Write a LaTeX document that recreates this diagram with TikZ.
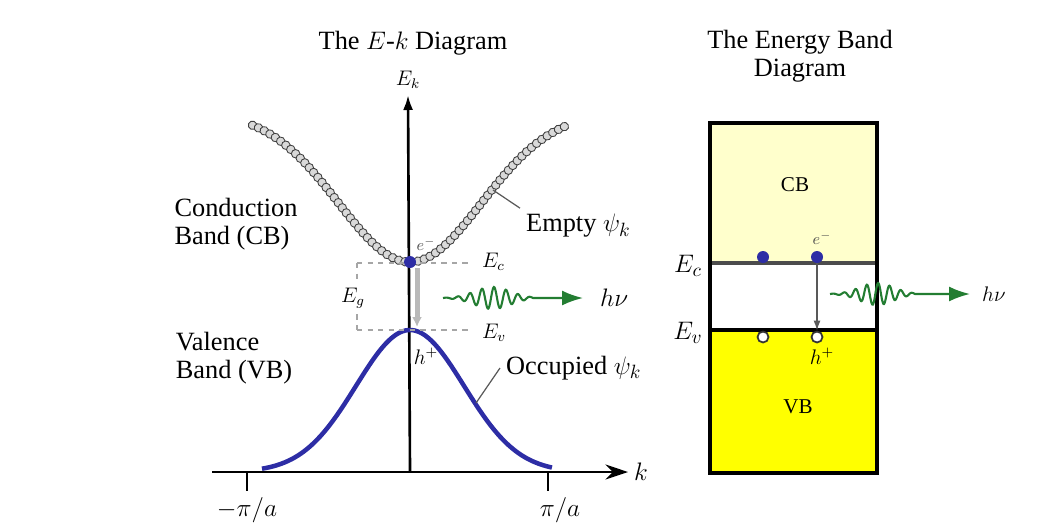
\documentclass[tikz,border=0pt]{standalone}
\usepackage{amsmath,amssymb}
\usepackage{fontspec}
\setmainfont{Liberation Serif}
\usetikzlibrary{arrows.meta,decorations.markings}

\definecolor{bandblue}{RGB}{45,45,165}
\definecolor{photongreen}{RGB}{35,125,50}
\definecolor{cbfill}{RGB}{255,255,204}
\definecolor{vbfill}{RGB}{255,255,0}

\tikzset{
  txt/.style={font=\fontsize{15}{16}\selectfont},
  sml/.style={font=\fontsize{12}{14}\selectfont},
  tiny/.style={font=\fontsize{9}{10}\selectfont, text=black!70},
  edot/.style={circle, fill=bandblue, inner sep=0pt, minimum size=0.24cm},
  hole/.style={circle, draw=black!80, fill=white, line width=1pt, inner sep=0pt, minimum size=0.22cm},
  photon/.style={photongreen, line width=1.2pt, -{Latex[length=0.42cm,width=0.3cm]}},
  lvl/.style={gray!70, dashed, line width=0.7pt},
  leader/.style={black!65, line width=0.7pt},
  cbchain/.style={postaction={decorate, decoration={markings,
      mark=between positions 0 and 1 step 0.13cm with {\draw[black!75, fill=gray!30, line width=0.5pt] (0,0) circle (0.085cm);}}}},
}

\begin{document}
\begin{tikzpicture}[x=0.02cm, y=-0.02cm, >={Latex[length=0.3cm,width=0.2cm]}]
	\useasboundingbox (0,0) rectangle (1057,525);
	% E-k diagram
	\node[txt] (tEk) at (413,43) {The $E$-$k$ Diagram};
	\coordinate (O) at (410,472);
	\coordinate (ktail) at (212,472);
	\node[sml] (Ek) at (408,80) {$E_k$};
	\node[txt, anchor=west] (k) at (628,472) {$k$};
	\draw[line width=1.5pt, -{Stealth[length=0.45cm,width=0.3cm]}] (ktail) -- (k.west);
	\draw[line width=1.5pt, ->] (O) -- (Ek.south);
	\node[txt] (mpa) at (247,510) {$-\pi/a$};
	\node[txt] (ppa) at (560,510) {$\pi/a$};
	\draw[line width=0.8pt] (mpa.north |- O) -- (mpa.north);
	\draw[line width=0.8pt] (548,472) -- (548,491);
	\draw[bandblue, line width=0.09cm] plot[domain=-2.96:2.84, samples=90] ({410+50*\x},{472-142*exp(-0.4287*\x*\x)});
	\path[cbchain] plot[domain=-3.15:3.2, samples=120] ({410+50*\x},{112+150*exp(-0.2445*\x*\x)});
	\node[txt, align=left] (cbtxt) at (236,224) {Conduction\\Band (CB)};
	\node[txt, align=left] (vbtxt) at (234,358) {Valence\\Band (VB)};
	\coordinate (cbpt) at (493,190);
	\node[txt, anchor=west] (empty) at (520,226) {Empty $\psi_k$};
	\draw[leader] (cbpt) -- (empty.north west);
	\coordinate (vbpt) at (476,403);
	\node[txt, anchor=west] (occ) at (500,368) {Occupied $\psi_k$};
	\draw[leader] (vbpt) -- (occ.west);
	\coordinate (ecL) at (357,263);
	\coordinate (ecR) at (470,263);
	\coordinate (evL) at (357,330);
	\coordinate (evR) at (470,330);
	\draw[lvl] (ecL) -- (ecR);
	\draw[lvl] (evL) -- (evR);
	\node[sml] (eg) at (353,298) {$E_g$};
	\draw[lvl] (ecL) -- (eg.north -| ecL);
	\draw[lvl] (eg.south -| evL) -- (evL);
	\node[sml, anchor=west] (ec1) at (476,262) {$E_c$};
	\node[sml, anchor=west] (ev1) at (476,333) {$E_v$};
	\coordinate (h1) at (417,327);
	\draw[gray!55, line width=0.1cm, -{Latex[length=0.2cm,width=0.2cm]}] (h1 |- 268,268) -- (h1);
	\node[edot] (e1) at (410,262) {};
	\node[tiny] (em1) at (426,244) {$e^-$};
	\node[sml] (hp1) at (426,356) {$h^+$};
	\coordinate (ph1end) at (583,298);
	\draw[photon] plot[domain=0:1, samples=160] ({443+90*\x},{298-11*exp(-((\x-0.55)/0.28)^2)*sin(\x*7.5*360)}) -- (ph1end);
	\node[txt, anchor=west] (hv1) at (594,298) {$h\nu$};
	% energy band diagram
	\node[txt, align=center] (tEB) at (800,56) {The Energy Band\\Diagram};
	\fill[cbfill] (710,123) rectangle (877,263);
	\fill[vbfill] (710,330) rectangle (877,473);
	\draw[gray!60!black, line width=0.07cm] (710,263) -- (877,263);
	\draw[line width=0.07cm] (710,330) -- (877,330);
	\draw[line width=0.07cm] (710,123) rectangle (877,473);
	\node[sml] (cb) at (795,185) {CB};
	\node[sml] (vb) at (798,407) {VB};
	\node[txt] (ec2) at (688,266) {$E_c$};
	\node[txt] (ev2) at (688,333) {$E_v$};
	\node[edot] (e2) at (763,257) {};
	\node[edot] (e3) at (817,257) {};
	\node[hole] (h2) at (763,337) {};
	\node[hole] (h3) at (817,337) {};
	\draw[gray!70!black, line width=0.8pt, -{Latex[length=0.2cm,width=0.14cm]}] (e3) -- (h3);
	\node[tiny] (em2) at (822,238) {$e^-$};
	\node[sml] (hp2) at (822,356) {$h^+$};
	\coordinate (ph2end) at (970,294);
	\draw[photon] plot[domain=0:1, samples=160] ({830+85*\x},{294-11*exp(-((\x-0.55)/0.28)^2)*sin(\x*7.5*360)}) -- (ph2end);
	\node[sml, anchor=west] (hv2) at (976,294) {$h\nu$};
\end{tikzpicture}
\end{document}
